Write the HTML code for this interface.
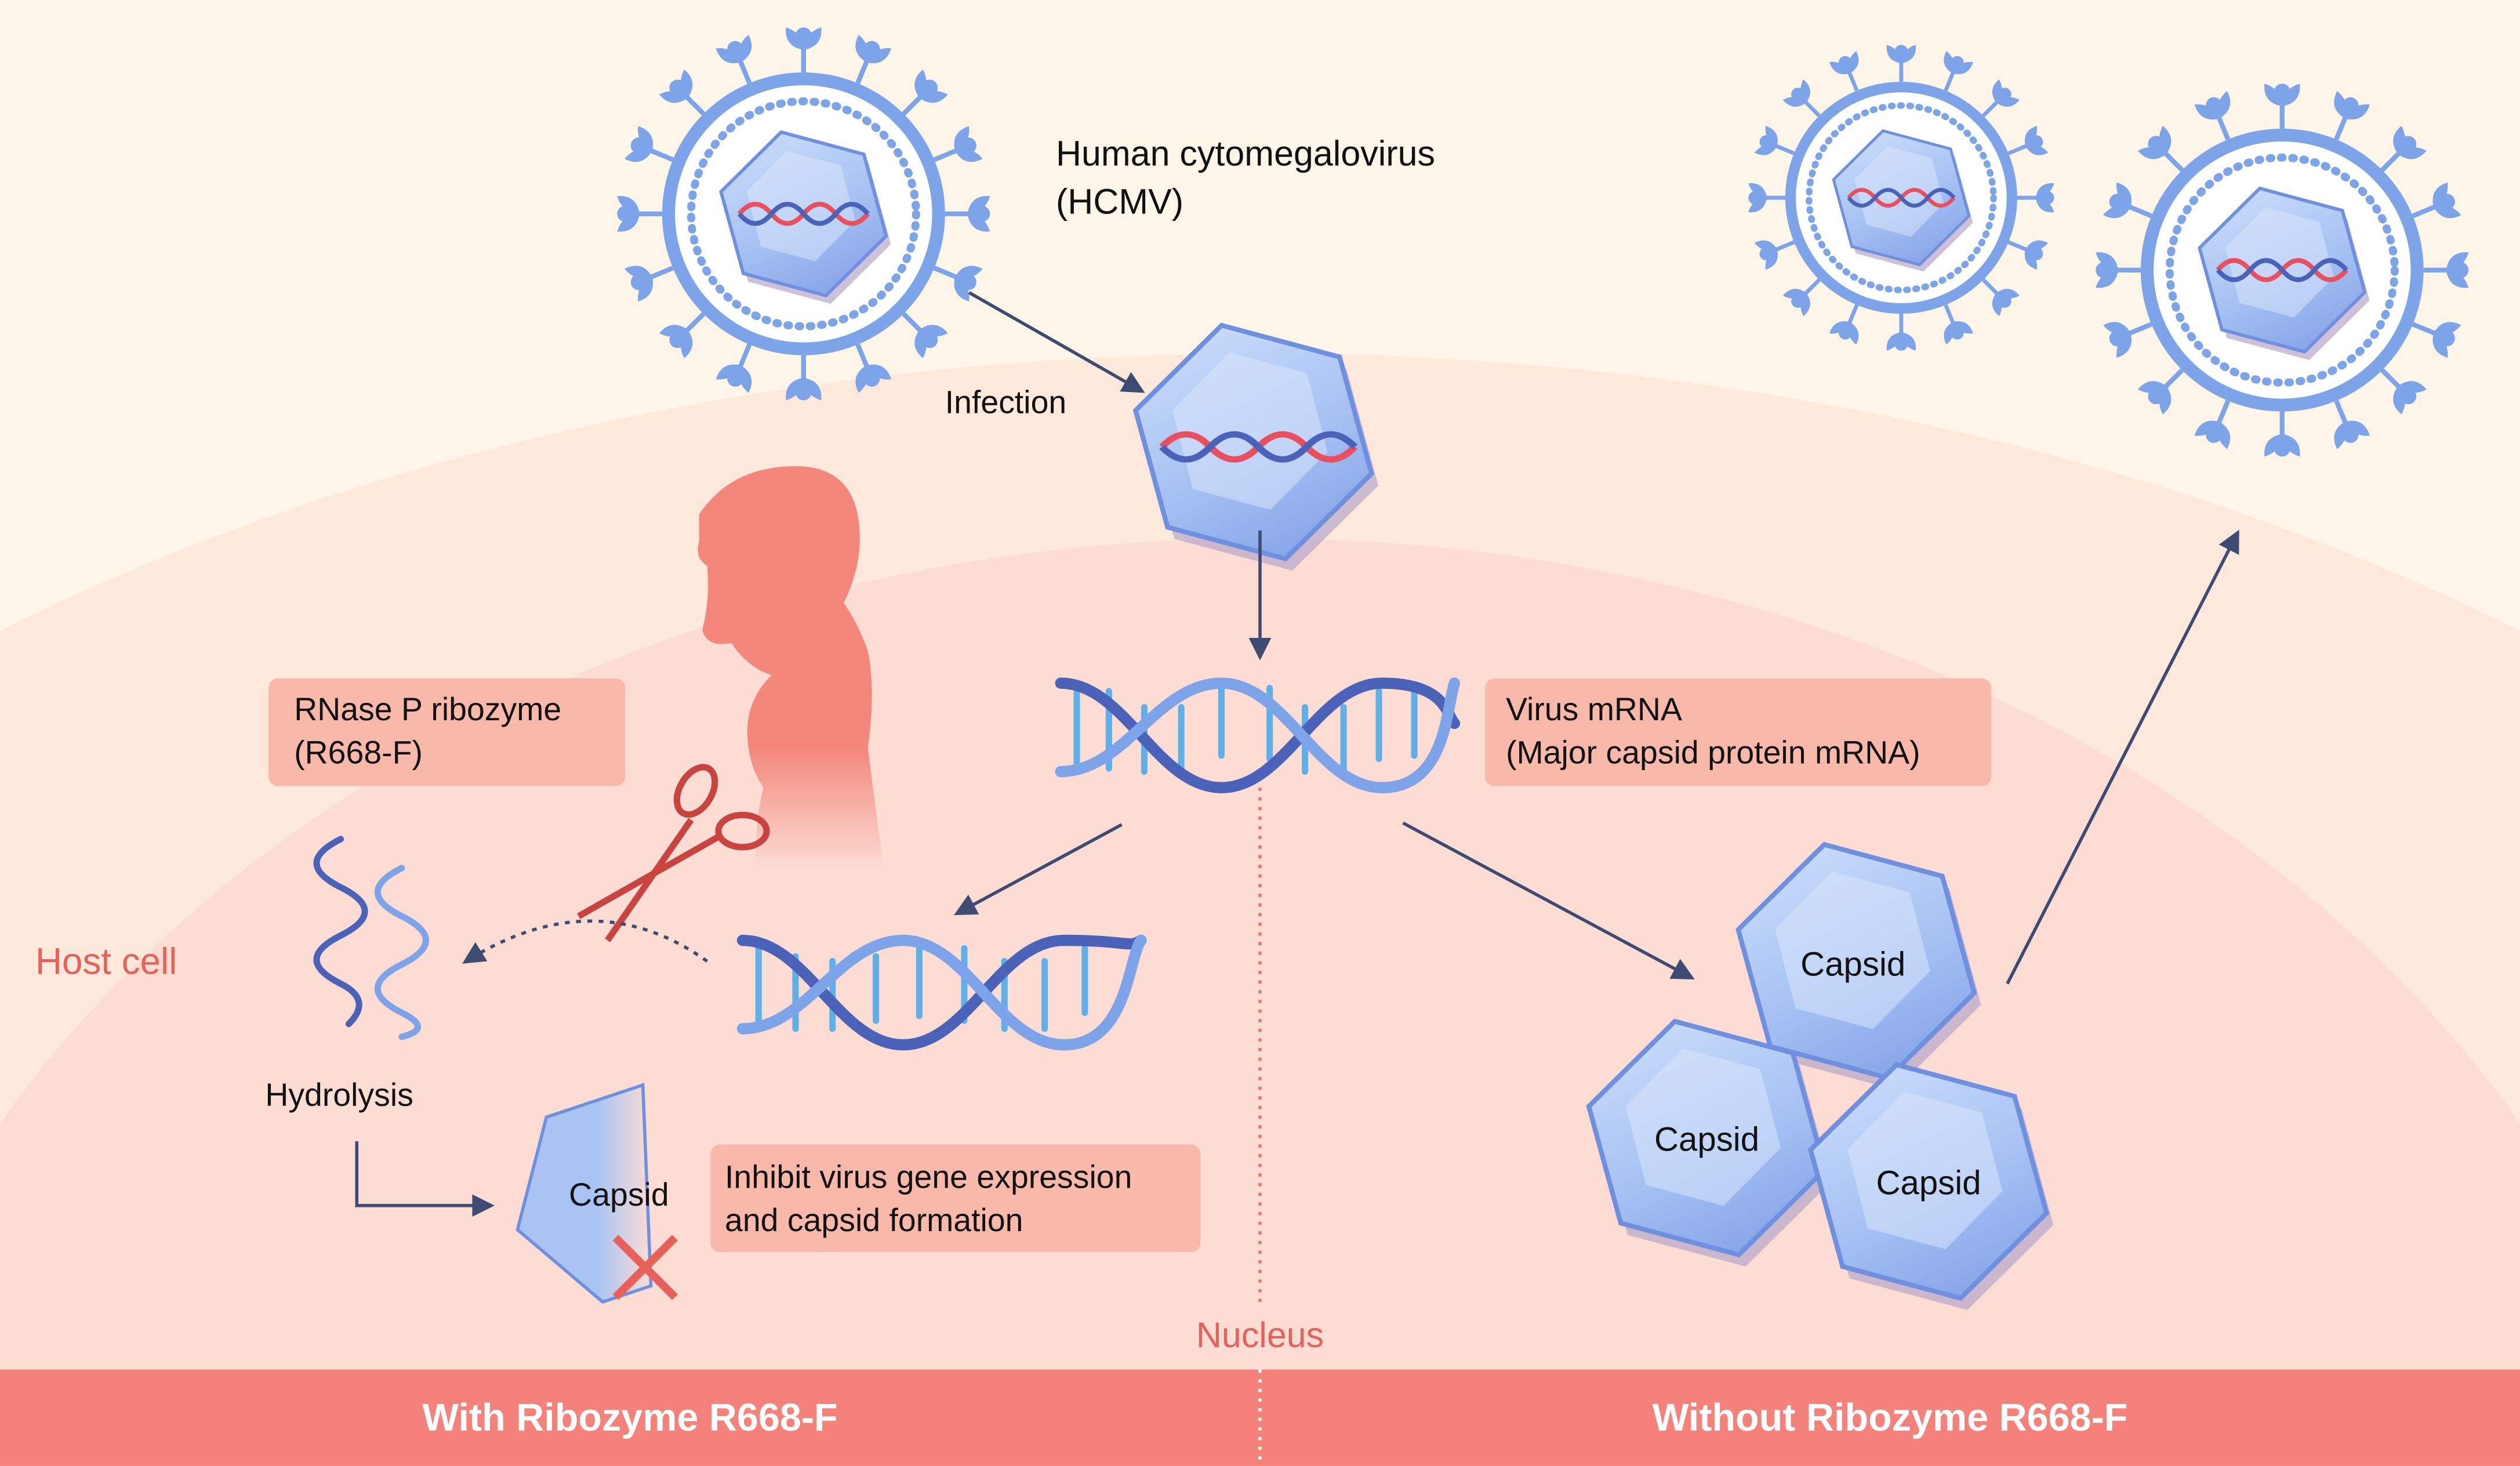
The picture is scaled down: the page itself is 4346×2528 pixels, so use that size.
<!DOCTYPE html>
<html><head><meta charset="utf-8"><style>
html,body{margin:0;padding:0;width:4346px;height:2528px;overflow:hidden;background:#fdf5e8}
svg{display:block;position:absolute;left:0;top:0}
text{font-family:"Liberation Sans",sans-serif}
</style></head><body>
<svg width="4346" height="2528" viewBox="0 0 1568 912" xmlns="http://www.w3.org/2000/svg">
<defs>
<linearGradient id="hexg" x1="0" y1="0" x2="1" y2="1">
<stop offset="0" stop-color="#cfe0fb"/><stop offset="0.5" stop-color="#a9c4f3"/><stop offset="1" stop-color="#7d9ce6"/></linearGradient>
<linearGradient id="boyg" x1="0" y1="0" x2="0" y2="1">
<stop offset="0.7" stop-color="#f3877b"/><stop offset="1" stop-color="#f3877b" stop-opacity="0"/></linearGradient>
<linearGradient id="cutg" x1="0" y1="0" x2="1" y2="0">
<stop offset="0.6" stop-color="#a9c4f3"/><stop offset="1" stop-color="#a9c4f3" stop-opacity="0"/></linearGradient>
<marker id="ar" viewBox="0 0 10 10" refX="8" refY="5" markerWidth="7" markerHeight="7" orient="auto"><path d="M0,0 L10,5 L0,10 z" fill="#3d4a72"/></marker>
<g id="spike"><line x1="0" y1="0" x2="0" y2="-16" stroke="#7da3e8" stroke-width="3"/><path d="M0,-14 q-12,-2 -11,-14 q7,2 11,9 q4,-7 11,-9 q1,12 -11,14z" fill="#7da3e8"/><circle cx="0" cy="-23" r="5" fill="#7da3e8"/></g>
<g id="hex"><polygon points="-38,-65 38,-65 76,0 38,65 -38,65 -76,0" transform="rotate(15) translate(6,6)" fill="#b7a6c9" opacity="0.7"/><polygon points="-38,-65 38,-65 76,0 38,65 -38,65 -76,0" transform="rotate(15)" fill="url(#hexg)" stroke="#6f8fdf" stroke-width="3"/><polygon points="-25,-44 25,-44 50,0 25,44 -25,44 -50,0" transform="rotate(15) translate(-4,-6)" fill="#d9e6fb" opacity="0.55"/></g>
<g id="dna"><path d="M-40,0 q10,-12 20,0 t20,0 t20,0 t20,0" fill="none" stroke="#e8505f" stroke-width="3"/><path d="M-40,0 q10,12 20,0 t20,0 t20,0 t20,0" fill="none" stroke="#4a63b8" stroke-width="3"/></g>
<g id="virus">
<g>
<use href="#spike" transform="rotate(0) translate(0,-88)"/><use href="#spike" transform="rotate(22.5) translate(0,-88)"/><use href="#spike" transform="rotate(45) translate(0,-88)"/><use href="#spike" transform="rotate(67.5) translate(0,-88)"/><use href="#spike" transform="rotate(90) translate(0,-88)"/><use href="#spike" transform="rotate(112.5) translate(0,-88)"/><use href="#spike" transform="rotate(135) translate(0,-88)"/><use href="#spike" transform="rotate(157.5) translate(0,-88)"/><use href="#spike" transform="rotate(180) translate(0,-88)"/><use href="#spike" transform="rotate(202.5) translate(0,-88)"/><use href="#spike" transform="rotate(225) translate(0,-88)"/><use href="#spike" transform="rotate(247.5) translate(0,-88)"/><use href="#spike" transform="rotate(270) translate(0,-88)"/><use href="#spike" transform="rotate(292.5) translate(0,-88)"/><use href="#spike" transform="rotate(315) translate(0,-88)"/><use href="#spike" transform="rotate(337.5) translate(0,-88)"/>
</g>
<circle r="84" fill="#fff" stroke="#7da3e8" stroke-width="8"/>
<circle r="70" fill="none" stroke="#7da3e8" stroke-width="5" stroke-dasharray="1 6" stroke-linecap="round"/>
<g transform="scale(0.7)"><use href="#hex"/></g>
<use href="#dna"/>
</g>
</defs>
<rect width="1568" height="912" fill="#fdf5e8"/>
<ellipse cx="784" cy="1000" rx="1250" ry="780" fill="#fde8dc"/>
<ellipse cx="784" cy="1050" rx="900" ry="715" fill="#fcdcd3"/>
<path d="M784,490 V812" stroke="#e87670" stroke-width="2" stroke-dasharray="2 4"/>
<rect x="0" y="852" width="1568" height="60" fill="#f4827a"/>
<path d="M784,852 V912" stroke="#fff" stroke-width="2" stroke-dasharray="2 4"/>
<text x="392" y="890" fill="#fff" font-size="24" font-weight="bold" text-anchor="middle">With Ribozyme R668-F</text>
<text x="1176" y="890" fill="#fff" font-size="24" font-weight="bold" text-anchor="middle">Without Ribozyme R668-F</text>
<text x="784" y="838" fill="#e8605a" font-size="22" text-anchor="middle">Nucleus</text>
<text x="22" y="606" fill="#e8605a" font-size="23">Host cell</text>

<use href="#virus" transform="translate(500,133)"/>
<use href="#virus" transform="translate(1183,123) scale(0.82)"/>
<use href="#virus" transform="translate(1420,168)"/>
<text x="657" y="103" font-size="22" fill="#111">Human cytomegalovirus</text>
<text x="657" y="133" font-size="22" fill="#111">(HCMV)</text>
<line x1="603" y1="182" x2="710" y2="243" stroke="#3d4a72" stroke-width="2" marker-end="url(#ar)"/>
<text x="588" y="257" font-size="20" fill="#111">Infection</text>
<use href="#hex" transform="translate(780,275)"/>
<g transform="translate(783,278) scale(1.5,1.3)"><use href="#dna"/></g>
<line x1="784" y1="330" x2="784" y2="408" stroke="#3d4a72" stroke-width="2" marker-end="url(#ar)"/>

<path d="M435,320 q20,-30 60,-30 q40,0 40,45 q0,20 -10,40 q10,15 15,30 q5,25 0,60 q5,40 10,75 h-80 q0,-30 5,-50 q-10,-15 -10,-35 q0,-20 15,-35 q-15,-5 -25,-20 q-15,3 -18,-8 q5,-20 3,-40 q-8,-5 -5,-15z" fill="url(#boyg)"/>
<g stroke="#c9433f" stroke-width="4" fill="none">
<ellipse cx="433" cy="492" rx="10" ry="16" transform="rotate(30 433 492)"/>
<ellipse cx="462" cy="517" rx="15" ry="10"/>
<line x1="430" y1="510" x2="378" y2="585"/><line x1="448" y1="520" x2="360" y2="570"/>
</g>
<rect x="167" y="422" width="222" height="67" rx="6" fill="#f9b9aa"/>
<text x="183" y="448" font-size="20" fill="#111">RNase P ribozyme</text>
<text x="183" y="475" font-size="20" fill="#111">(R668-F)</text>

<g fill="none" stroke-width="4" stroke-linecap="round">
<path d="M212,522 q-30,15 0,30 q30,15 0,30 q-30,15 0,30 q20,10 5,25" stroke="#4a63b8"/>
<path d="M250,540 q-30,15 0,30 q30,15 0,30 q-30,15 0,30 q20,10 0,15" stroke="#7da3e8"/>
</g>
<text x="165" y="688" font-size="20" fill="#111">Hydrolysis</text>
<path d="M222,710 V750 H305" fill="none" stroke="#3d4a72" stroke-width="2" marker-end="url(#ar)"/>
<path d="M440,598 q-70,-50 -150,0" fill="none" stroke="#3d4a72" stroke-width="2" stroke-dasharray="3 4" marker-end="url(#ar)"/>

<g fill="none" stroke-linecap="round">
<g stroke="#5fb0e8" stroke-width="4">
<line x1="670" y1="430" x2="670" y2="475"/><line x1="690" y1="430" x2="690" y2="478"/><line x1="712" y1="440" x2="712" y2="480"/><line x1="735" y1="440" x2="735" y2="478"/><line x1="760" y1="428" x2="760" y2="470"/><line x1="790" y1="428" x2="790" y2="472"/><line x1="812" y1="440" x2="812" y2="480"/><line x1="836" y1="440" x2="836" y2="480"/><line x1="858" y1="430" x2="858" y2="472"/><line x1="880" y1="430" x2="880" y2="470"/>
</g>
<path d="M660,425 c40,0 60,65 100,65 s60,-65 100,-65 s40,20 45,25" stroke="#4a63b8" stroke-width="7"/>
<path d="M660,480 c40,0 60,-55 100,-55 s60,65 100,65 s40,-50 45,-65" stroke="#7da3e8" stroke-width="7"/>
</g>
<rect x="924" y="422" width="315" height="67" rx="6" fill="#f9b9aa"/>
<text x="937" y="448" font-size="20" fill="#111">Virus mRNA</text>
<text x="937" y="475" font-size="20" fill="#111">(Major capsid protein mRNA)</text>
<line x1="698" y1="513" x2="596" y2="568" stroke="#3d4a72" stroke-width="2" marker-end="url(#ar)"/>
<line x1="873" y1="512" x2="1052" y2="608" stroke="#3d4a72" stroke-width="2" marker-end="url(#ar)"/>

<g fill="none" stroke-linecap="round">
<g stroke="#5fb0e8" stroke-width="4">
<line x1="472" y1="590" x2="472" y2="635"/><line x1="495" y1="595" x2="495" y2="640"/><line x1="518" y1="598" x2="518" y2="640"/><line x1="545" y1="595" x2="545" y2="635"/><line x1="572" y1="590" x2="572" y2="632"/><line x1="600" y1="590" x2="600" y2="635"/><line x1="625" y1="598" x2="625" y2="640"/><line x1="650" y1="598" x2="650" y2="640"/><line x1="675" y1="590" x2="675" y2="630"/>
</g>
<path d="M462,585 c40,0 60,65 100,65 s60,-65 100,-65 s40,5 48,0" stroke="#4a63b8" stroke-width="7"/>
<path d="M462,640 c40,0 60,-55 100,-55 s60,65 100,65 s40,-55 48,-65" stroke="#7da3e8" stroke-width="7"/>
</g>

<path d="M340,695 L400,675 L405,800 L375,810 L322,765 Z" fill="url(#cutg)" stroke="#6f8fdf" stroke-width="2"/>
<text x="354" y="750" font-size="20" fill="#111">Capsid</text>
<g stroke="#e8605a" stroke-width="5"><line x1="383" y1="770" x2="420" y2="807"/><line x1="420" y1="770" x2="383" y2="807"/></g>
<rect x="442" y="712" width="305" height="67" rx="6" fill="#f9b9aa"/>
<text x="451" y="739" font-size="20" fill="#111">Inhibit virus gene expression</text>
<text x="451" y="766" font-size="20" fill="#111">and capsid formation</text>

<use href="#hex" transform="translate(1155,598)"/>
<use href="#hex" transform="translate(1062,708)"/>
<use href="#hex" transform="translate(1200,735)"/>
<text x="1153" y="607" font-size="21" fill="#111" text-anchor="middle">Capsid</text>
<text x="1062" y="716" font-size="21" fill="#111" text-anchor="middle">Capsid</text>
<text x="1200" y="743" font-size="21" fill="#111" text-anchor="middle">Capsid</text>
<line x1="1249" y1="612" x2="1392" y2="332" stroke="#3d4a72" stroke-width="2" marker-end="url(#ar)"/>
</svg>
</body></html>
